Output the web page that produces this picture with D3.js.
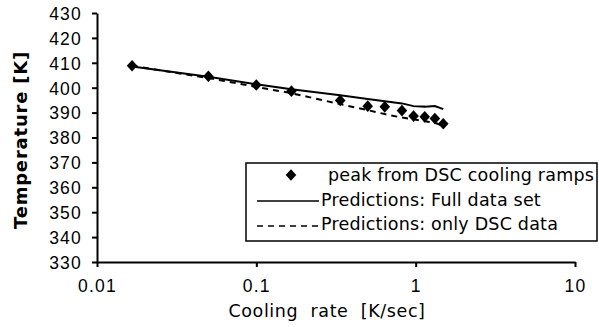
<!DOCTYPE html>
<html>
<head>
<meta charset="utf-8">
<script src="https://d3js.org/d3.v7.min.js"></script>
<style>
  body { margin:0; background:#fff; }
  svg { display:block; font-family:"DejaVu Sans", Verdana, sans-serif; }
</style>
</head>
<body>
<script>
// cooling rate [K/sec] for each DSC ramp
var rates = [0.0166, 0.05, 0.1, 0.166, 0.336, 0.5, 0.64, 0.82, 0.97, 1.14, 1.32, 1.49];
// peak temperature from DSC cooling ramps
var peaks = [408.8, 404.6, 401.1, 398.6, 394.9, 392.6, 392.3, 390.8, 388.6, 388.3, 387.6, 385.5];
// predictions, full data set
var fullPred = [408.5, 404.4, 401.4, 399.4, 397.0, 395.5, 394.6, 393.7, 392.6, 392.4, 392.6, 391.4];
// predictions, only DSC data
var dscPred = [408.8, 403.9, 400.3, 397.8, 393.4, 391.0, 389.4, 388.0, 387.3, 386.5, 385.9, 384.7];

var yTicks = [330, 340, 350, 360, 370, 380, 390, 400, 410, 420, 430];
var xTicks = [0.01, 0.1, 1, 10];
var legendLabels = ["peak from DSC cooling ramps", "Predictions: Full data set", "Predictions: only DSC data"];

var W = 599, H = 327;
var svg = d3.select("body").append("svg").attr("width", W).attr("height", H);

var x = d3.scaleLog().domain([0.01, 10]).range([97, 575]);
var y = d3.scaleLinear().domain([330, 430]).range([262, 13]);

// axes
var xAxis = d3.axisBottom(x).tickValues(xTicks).tickSize(5).tickSizeOuter(0)
  .tickFormat(function(d){ return d3.format("")(d); });
var yAxis = d3.axisLeft(y).tickValues(yTicks).tickSize(5).tickSizeOuter(0);

var gx = svg.append("g").attr("transform", "translate(0," + y(330) + ")").call(xAxis);
var gy = svg.append("g").attr("transform", "translate(" + x(0.01) + ",0)").call(yAxis);
[gx, gy].forEach(function(g){
  g.selectAll("path, line").attr("stroke", "#000").attr("stroke-width", 2);
  g.selectAll("text").attr("fill", "#000").style("font-size", "17.5px").style("letter-spacing", "1.2px");
});
gx.selectAll("text").attr("y", 30).attr("dy", 0);
gy.selectAll("text").attr("x", -15).attr("dy", "0.36em");

svg.append("text")
  .attr("x", 327).attr("y", 317)
  .attr("text-anchor", "middle")
  .attr("xml:space", "preserve")
  .style("white-space", "pre")
  .style("font-size", "17.5px").style("letter-spacing", "0.6px")
  .text("Cooling  rate  [K/sec]");

svg.append("text")
  .attr("transform", "translate(27,140) rotate(-90)")
  .attr("text-anchor", "middle")
  .style("font-size", "18px").style("font-weight", "bold").style("letter-spacing", "0.8px")
  .text("Temperature [K]");

// lines
var line = function(vals){
  return d3.line().x(function(d, i){ return x(rates[i]); }).y(function(d){ return y(d); })(vals);
};
svg.append("path").attr("d", line(fullPred))
  .attr("fill", "none").attr("stroke", "#000").attr("stroke-width", 2);
svg.append("path").attr("d", line(dscPred))
  .attr("fill", "none").attr("stroke", "#000").attr("stroke-width", 2).attr("stroke-dasharray", "6,5");

// points
var diamond = d3.symbol().type(d3.symbolSquare).size(56);
svg.selectAll(".pt").data(peaks).enter().append("path")
  .attr("class", "pt")
  .attr("d", diamond)
  .attr("transform", function(d, i){ return "translate(" + x(rates[i]) + "," + y(d) + ") scale(1,1.1) rotate(45)"; })
  .attr("fill", "#000");

// legend
var lg = svg.append("g");
lg.append("rect").attr("x", 246).attr("y", 163).attr("width", 351).attr("height", 78)
  .attr("fill", "#fff").attr("stroke", "#000").attr("stroke-width", 1.5);
var rowBase = [181, 206, 230];
lg.append("path").attr("d", diamond)
  .attr("transform", "translate(291,175) scale(1,1.1) rotate(45)").attr("fill", "#000");
lg.append("line").attr("x1", 257).attr("x2", 319).attr("y1", 201).attr("y2", 201)
  .attr("stroke", "#000").attr("stroke-width", 1.5);
lg.append("line").attr("x1", 257).attr("x2", 319).attr("y1", 226).attr("y2", 226)
  .attr("stroke", "#000").attr("stroke-width", 1.5).attr("stroke-dasharray", "6,5");
lg.selectAll(".lt").data(legendLabels).enter().append("text")
  .attr("x", function(d, i){ return i === 0 ? 328 : 321; })
  .attr("y", function(d, i){ return rowBase[i]; })
  .style("font-size", "17.5px").style("letter-spacing", "0.2px")
  .text(function(d){ return d; });
</script>
</body>
</html>
